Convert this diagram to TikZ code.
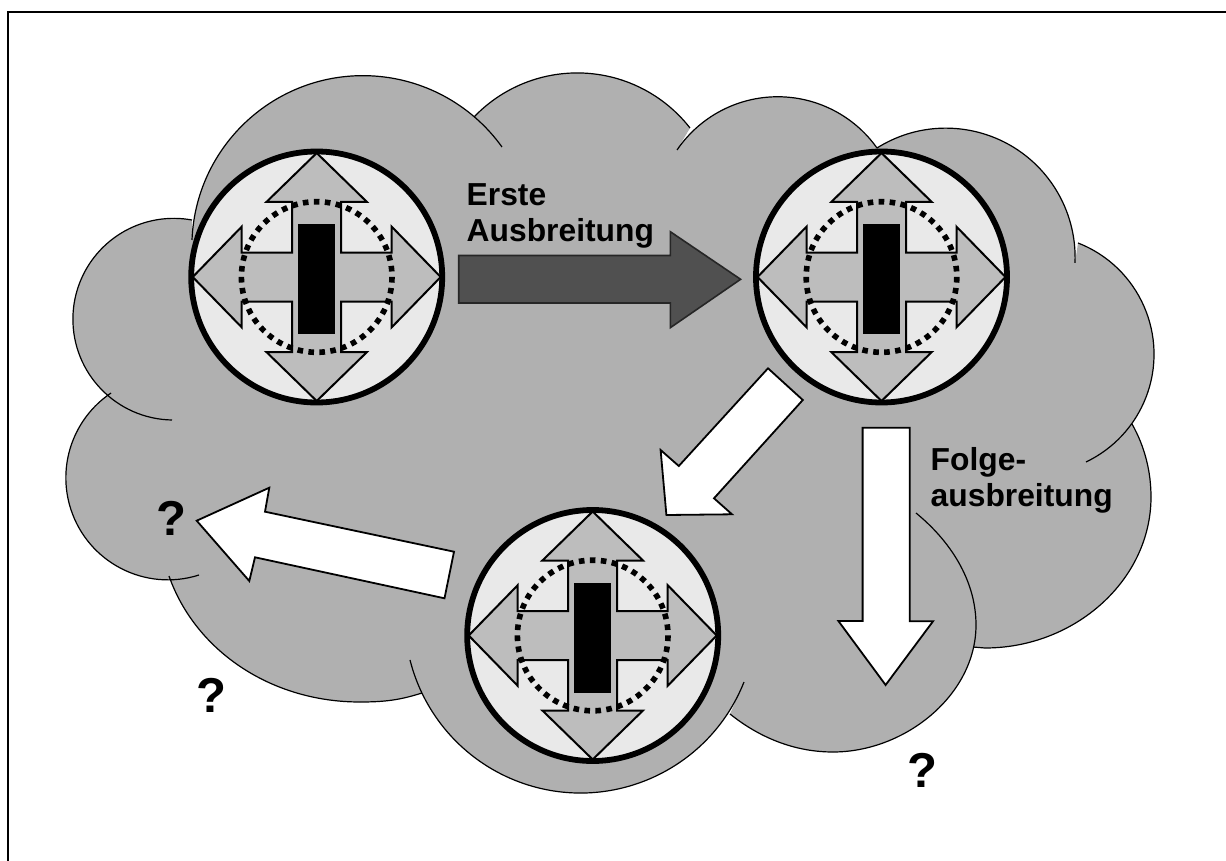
\documentclass[tikz,border=0pt]{standalone}
\usepackage{fontspec}
\setmainfont{Liberation Sans}
\definecolor{cloudgrey}{HTML}{B0B0B0}
\definecolor{crossgrey}{HTML}{BDBDBD}
\definecolor{discgrey}{HTML}{E9E9E9}
\definecolor{darkarrow}{HTML}{505050}
% circle arc through three points, stored as a path fragment in #1
\newcommand\defarc[7]{%
  \pgfmathsetmacro\qbx{(#4-#2)/100}%
  \pgfmathsetmacro\qby{(#5-#3)/100}%
  \pgfmathsetmacro\qcx{(#6-#2)/100}%
  \pgfmathsetmacro\qcy{(#7-#3)/100}%
  \pgfmathsetmacro\qdd{2*(\qbx*\qcy-\qby*\qcx)}%
  \pgfmathsetmacro\qbb{\qbx*\qbx+\qby*\qby}%
  \pgfmathsetmacro\qcc{\qcx*\qcx+\qcy*\qcy}%
  \pgfmathsetmacro\qux{(\qcy*\qbb-\qby*\qcc)/\qdd}%
  \pgfmathsetmacro\quy{(\qbx*\qcc-\qcx*\qbb)/\qdd}%
  \pgfmathsetmacro\qrr{100*sqrt(\qux*\qux+\quy*\quy)}%
  \pgfmathsetmacro\qaone{atan2(-\quy,-\qux)}%
  \pgfmathsetmacro\qatwo{atan2(\qcy-\quy,\qcx-\qux)}%
  \pgfmathsetmacro\qatwo{(\qdd>0 && \qatwo<\qaone) ? \qatwo+360 : ((\qdd<0 && \qatwo>\qaone) ? \qatwo-360 : \qatwo)}%
  \xdef#1{(#2,#3) arc[start angle=\qaone,end angle=\qatwo,radius=\qrr]}%
}
\defarc\lobeA{192}{240}{352}{76}{502}{147}
\defarc\lobeB{474}{117}{573}{73}{690}{128}
\defarc\lobeC{677}{150}{770}{97}{877}{148}
\defarc\lobeD{877}{148}{1006}{143}{1075}{263}
\defarc\lobeE{1078}{243}{1154}{355}{1086}{462}
\newcommand\lobeF{(1132,424) .. controls (1145,447) and (1151,472) .. (1151,497) .. controls (1151,580) and (1075,648) .. (985,648) -- (973,647)}
\newcommand\lobeG{(916,513) .. controls (955,545) and (976,585) .. (976,625) .. controls (976,695) and (905,752) .. (833,752) .. controls (795,752) and (760,738) .. (730,714)}
\defarc\lobeH{744}{682}{582}{793}{410}{660}
\newcommand\lobeI{(422,693) .. controls (400,700) and (385,702) .. (360,702) .. controls (270,702) and (195,650) .. (169,576)}
\defarc\lobeJ{199}{575}{66}{472}{111}{393}
\defarc\lobeK{172}{420}{73}{315}{192}{220}
\newcommand\cloudlobes[1]{\lobeA #1 \lobeB #1 \lobeC #1 \lobeD #1 \lobeE #1 \lobeF #1 \lobeG #1 \lobeH #1 \lobeI #1 \lobeJ #1 \lobeK}
\tikzset{
  frameline/.style={line width=2pt,black},
  cloudfill/.style={fill=cloudgrey},
  cloudline/.style={line width=1.2pt,black},
  disc/.style={draw=black,line width=5.8pt,fill=discgrey},
  crossarrow/.style={draw=black,line width=2pt,fill=crossgrey,line join=miter},
  ringdots/.style={draw=black,line width=5.6pt,dash pattern=on 5.6pt off 5.4pt},
  core/.style={fill=black},
  darkblock/.style={draw=black!85,line width=1.6pt,fill=darkarrow,line join=miter},
  whiteblock/.style={draw=black,line width=1.8pt,fill=white,line join=miter},
  labeltext/.style={anchor=base west,inner sep=0pt,align=left,font=\fontsize{31.8}{36}\selectfont\bfseries},
  querytext/.style={anchor=base,inner sep=0pt,font=\fontsize{49}{50}\selectfont\bfseries}
}
\newcommand\compass[1]{
  \begin{scope}[shift={#1}]
    \path[disc] (0,0) circle (125.5);
    \path[crossarrow] (0,-124) -- (50.3,-75) -- (24.5,-75) -- (24.5,-24.5) -- (75,-24.5) -- (75,-50.3)
      -- (124,0) -- (75,50.3) -- (75,24.5) -- (24.5,24.5) -- (24.5,75) -- (50.3,75) -- (0,124)
      -- (-50.3,75) -- (-24.5,75) -- (-24.5,24.5) -- (-75,24.5) -- (-75,50.3) -- (-124,0)
      -- (-75,-50.3) -- (-75,-24.5) -- (-24.5,-24.5) -- (-24.5,-75) -- (-50.3,-75) -- cycle;
    \fill[core] (-19,-53) rectangle (18.5,57);
    \path[ringdots] (0,0) circle (75.3);
  \end{scope}
}
\begin{document}
\begin{tikzpicture}[x=1pt,y=-1pt]
  \useasboundingbox (0,0) rectangle (1226,861);
  \fill[white] (0,0) rectangle (1226,861);
  \draw[frameline] (1226,12) -- (8,12) -- (8,861);
  \fill[cloudfill] \cloudlobes{--} -- cycle;
  \draw[cloudline] \cloudlobes{};
  \compass{(316.7,277)}
  \compass{(881.5,277)}
  \compass{(592.7,635.5)}
  \path[darkblock] (458.7,255.5) -- (670.3,255.5) -- (670.3,231.7) -- (740.6,279.3) -- (670.3,327.7) -- (670.3,303) -- (458.7,303) -- cycle;
  \path[whiteblock] (768,368.3) -- (802.8,400) -- (714,498.3) -- (732,514.3) -- (666.4,515) -- (660.6,450) -- (678.8,466) -- cycle;
  \path[whiteblock] (862.6,427.7) -- (909.7,427.7) -- (909.7,621.3) -- (933,621.3) -- (885.6,685) -- (838.4,621) -- (862.6,621) -- cycle;
  \path[whiteblock] (196.7,520.7) -- (269.3,487.7) -- (265,511.7) -- (454,551.7) -- (444.5,598.3) -- (255,557.3) -- (249.3,581) -- cycle;
  \node[labeltext] (erste) at (466.5,206) {Erste};
  \node[labeltext] (ausbreitung) at (466.5,241.7) {Ausbreitung};
  \node[labeltext] (folge) at (930.5,470) {Folge-};
  \node[labeltext] (folgeausbreitung) at (930.5,506) {ausbreitung};
  \node[querytext] (queryone) at (171,535.7) {?};
  \node[querytext] (querytwo) at (211,712.5) {?};
  \node[querytext] (querythree) at (922.3,787.7) {?};
\end{tikzpicture}
\end{document}
